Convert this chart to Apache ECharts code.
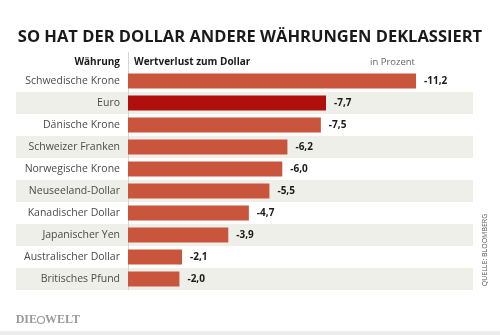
<!DOCTYPE html>
<html><head><meta charset="utf-8">
<script src="https://cdn.jsdelivr.net/npm/echarts@6/dist/echarts.min.js"></script>
<style>html,body{margin:0;padding:0;background:#fff}#c{width:500px;height:335px}</style>
</head><body><div id="c"></div>
<script>
const categories = ["Schwedische Krone","Euro","Dänische Krone","Schweizer Franken","Norwegische Krone","Neuseeland-Dollar","Kanadischer Dollar","Japanischer Yen","Australischer Dollar","Britisches Pfund"];
const values = [-11.2,-7.7,-7.5,-6.2,-6.0,-5.5,-4.7,-3.9,-2.1,-2.0];
const highlight = "Euro";
const title = "SO HAT DER DOLLAR ANDERE WÄHRUNGEN DEKLASSIERT";
const FONT = "Open Sans";
const BAR = "#c9553c", HI = "#b10f0b", STRIPE = "#efefe9";

const chart = echarts.init(document.getElementById('c'), null, {renderer:'canvas'});
const minVal = Math.min(...values);
chart.setOption({
  backgroundColor:'#fff',
  animation:false,
  title:{text:title, left:'center', top:24, textStyle:{fontFamily:FONT, fontSize:16.5, fontWeight:'bold', color:'#1a1a1a'}},
  grid:[
    {left:16, right:27, top:70, height:220},
    {left:128, right:84, top:70, height:220}
  ],
  xAxis:[
    {gridIndex:0, type:'value', show:false, min:0, max:1},
    {gridIndex:1, type:'value', show:false, min:minVal, max:0, inverse:true}
  ],
  yAxis:[
    {gridIndex:0, type:'category', data:categories, inverse:true, show:true,
     axisLine:{show:false}, axisTick:{show:false}, axisLabel:{show:false}, splitLine:{show:false},
     splitArea:{show:true, areaStyle:{color:['#ffffff', STRIPE]}}},
    {gridIndex:1, type:'category', data:categories, inverse:true,
     axisLine:{show:true, lineStyle:{color:'#d6d6d0', width:1}}, axisTick:{show:false},
     axisLabel:{margin:8, fontFamily:FONT, fontSize:10.5, color:'#4a4a4a'}}
  ],
  series:[{
    type:'bar', xAxisIndex:1, yAxisIndex:1, barWidth:15,
    data: values.map((v,i)=>({value:v, itemStyle:{color: categories[i]===highlight?HI:BAR}})),
    label:{show:true, position:'right', distance:8, fontFamily:FONT, fontSize:10, fontWeight:'bold', color:'#1a1a1a',
      formatter:p=>p.value.toFixed(1).replace('.',',')}
  }],
  graphic:[
    {type:'line', shape:{x1:128.5,y1:52,x2:128.5,y2:70}, style:{stroke:'#d6d6d0', lineWidth:1}},
    {type:'text', x:120, y:62, style:{text:'Währung', align:'right', verticalAlign:'middle', font:'bold 10px "Open Sans"', fill:'#1a1a1a'}},
    {type:'text', x:134, y:62, style:{text:'Wertverlust zum Dollar', align:'left', verticalAlign:'middle', font:'bold 10px "Open Sans"', fill:'#1a1a1a'}},
    {type:'text', x:415, y:62, style:{text:'in Prozent', align:'right', verticalAlign:'middle', font:'9.5px "Open Sans"', fill:'#666'}},
    {type:'text', x:463, y:280, style:{text:'Stand: 29.9.2014', align:'right', verticalAlign:'middle', font:'10px "Open Sans"', fill:'#555'}},
    {type:'text', x:485, y:250, rotation:Math.PI/2, style:{text:'QUELLE: BLOOMBERG', align:'center', verticalAlign:'middle', font:'7px "Open Sans"', fill:'#555'}},
    {type:'text', x:37, y:320, style:{text:'DIE', align:'right', verticalAlign:'middle', font:'bold 12px "Liberation Serif"', fill:'#9a9a9a'}},
    {type:'circle', shape:{cx:41, cy:320, r:3.5}, style:{fill:'none', stroke:'#9a9a9a', lineWidth:1.2}},
    {type:'text', x:45, y:320, style:{text:'WELT', align:'left', verticalAlign:'middle', font:'bold 12px "Liberation Serif"', fill:'#9a9a9a'}},
    {type:'rect', shape:{x:0,y:331,width:500,height:4}, style:{fill:'#ececec'}}
  ]
});
</script></body></html>
